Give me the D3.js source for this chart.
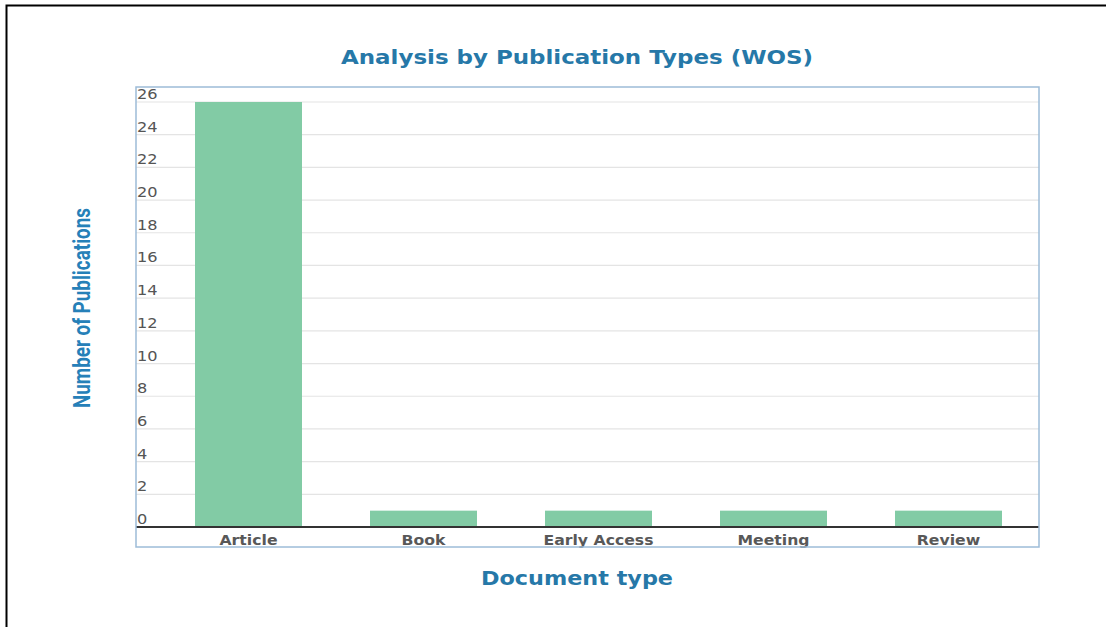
<!DOCTYPE html>
<html>
<head>
<meta charset="utf-8">
<script src="https://cdn.jsdelivr.net/npm/d3@7"></script>
<style>
  html, body { margin: 0; padding: 0; background: #fff; }
  svg { display: block; }
</style>
</head>
<body>
<svg id="chart" width="1106" height="627"></svg>
<script>
// Publication counts by document type (Web of Science)
const categories = ["Article", "Book", "Early Access", "Meeting", "Review"];
const counts = [26, 1, 1, 1, 1];
const yTicks = [0, 2, 4, 6, 8, 10, 12, 14, 16, 18, 20, 22, 24, 26];

const svg = d3.select("#chart");
const W = 1106, H = 627;

// outer page border
svg.append("rect")
  .attr("x", 6.5).attr("y", 5.5)
  .attr("width", W + 10).attr("height", H + 10)
  .attr("fill", "none").attr("stroke", "#000").attr("stroke-width", 2);

const frame = { left: 136, right: 1039, top: 87, bottom: 547 };

const x = d3.scaleBand()
  .domain(categories)
  .range([161, 1036])
  .paddingInner(68 / 175)
  .paddingOuter(34 / 175);

const y = d3.scaleLinear().domain([0, 26]).range([527, 102]);

// gridlines
svg.append("g").selectAll("line")
  .data(yTicks.filter(d => d > 0))
  .join("line")
  .attr("x1", frame.left).attr("x2", frame.right)
  .attr("y1", d => y(d)).attr("y2", d => y(d))
  .attr("stroke", "#e4e4e4").attr("stroke-width", 1.2);

// tick labels sit just above their gridline
svg.append("g").selectAll("text")
  .data(yTicks)
  .join("text")
  .attr("transform", d => `translate(${frame.left + 1},${y(d) - 3}) scale(1.2,1)`)
  .attr("font-family", "DejaVu Sans, sans-serif")
  .attr("font-size", 13.5)
  .attr("fill", "#555")
  .text(d => d);

// bars
svg.append("g").selectAll("rect")
  .data(categories.map((c, i) => ({ c, v: counts[i] })))
  .join("rect")
  .attr("x", d => x(d.c))
  .attr("width", x.bandwidth())
  .attr("y", d => y(d.v))
  .attr("height", d => y(0) - y(d.v))
  .attr("fill", "#82cba5");

// baseline
svg.append("line")
  .attr("x1", frame.left).attr("x2", frame.right)
  .attr("y1", y(0)).attr("y2", y(0))
  .attr("stroke", "#333").attr("stroke-width", 2);

// category labels
svg.append("g").selectAll("text")
  .data(categories)
  .join("text")
  .attr("transform", d => `translate(${x(d) + x.bandwidth() / 2},545) scale(1.12,1)`)
  .attr("text-anchor", "middle")
  .attr("font-family", "DejaVu Sans, sans-serif")
  .attr("font-weight", "bold")
  .attr("font-size", 14)
  .attr("fill", "#585858")
  .text(d => d);

// plot frame
svg.append("rect")
  .attr("x", frame.left).attr("y", frame.top)
  .attr("width", frame.right - frame.left)
  .attr("height", frame.bottom - frame.top)
  .attr("fill", "none").attr("stroke", "#9dbcd8").attr("stroke-width", 1.5);

// titles
svg.append("text")
  .attr("x", 577).attr("y", 64)
  .attr("text-anchor", "middle")
  .attr("font-family", "DejaVu Sans, sans-serif")
  .attr("font-weight", "bold")
  .attr("font-size", 19.5)
  .attr("textLength", 472)
  .attr("lengthAdjust", "spacingAndGlyphs")
  .attr("fill", "#2678a8")
  .text("Analysis by Publication Types (WOS)");

svg.append("text")
  .attr("x", 577).attr("y", 585)
  .attr("text-anchor", "middle")
  .attr("font-family", "DejaVu Sans, sans-serif")
  .attr("font-weight", "bold")
  .attr("font-size", 19)
  .attr("textLength", 192)
  .attr("lengthAdjust", "spacingAndGlyphs")
  .attr("fill", "#2678a8")
  .text("Document type");

svg.append("text")
  .attr("transform", "translate(90,308) rotate(-90)")
  .attr("text-anchor", "middle")
  .attr("font-family", "Liberation Sans Narrow, Roboto, sans-serif")
  .attr("font-weight", "bold")
  .attr("font-size", 24)
  .attr("textLength", 200)
  .attr("lengthAdjust", "spacingAndGlyphs")
  .attr("fill", "#2680b8")
  .text("Number of Publications");
</script>
</body>
</html>
